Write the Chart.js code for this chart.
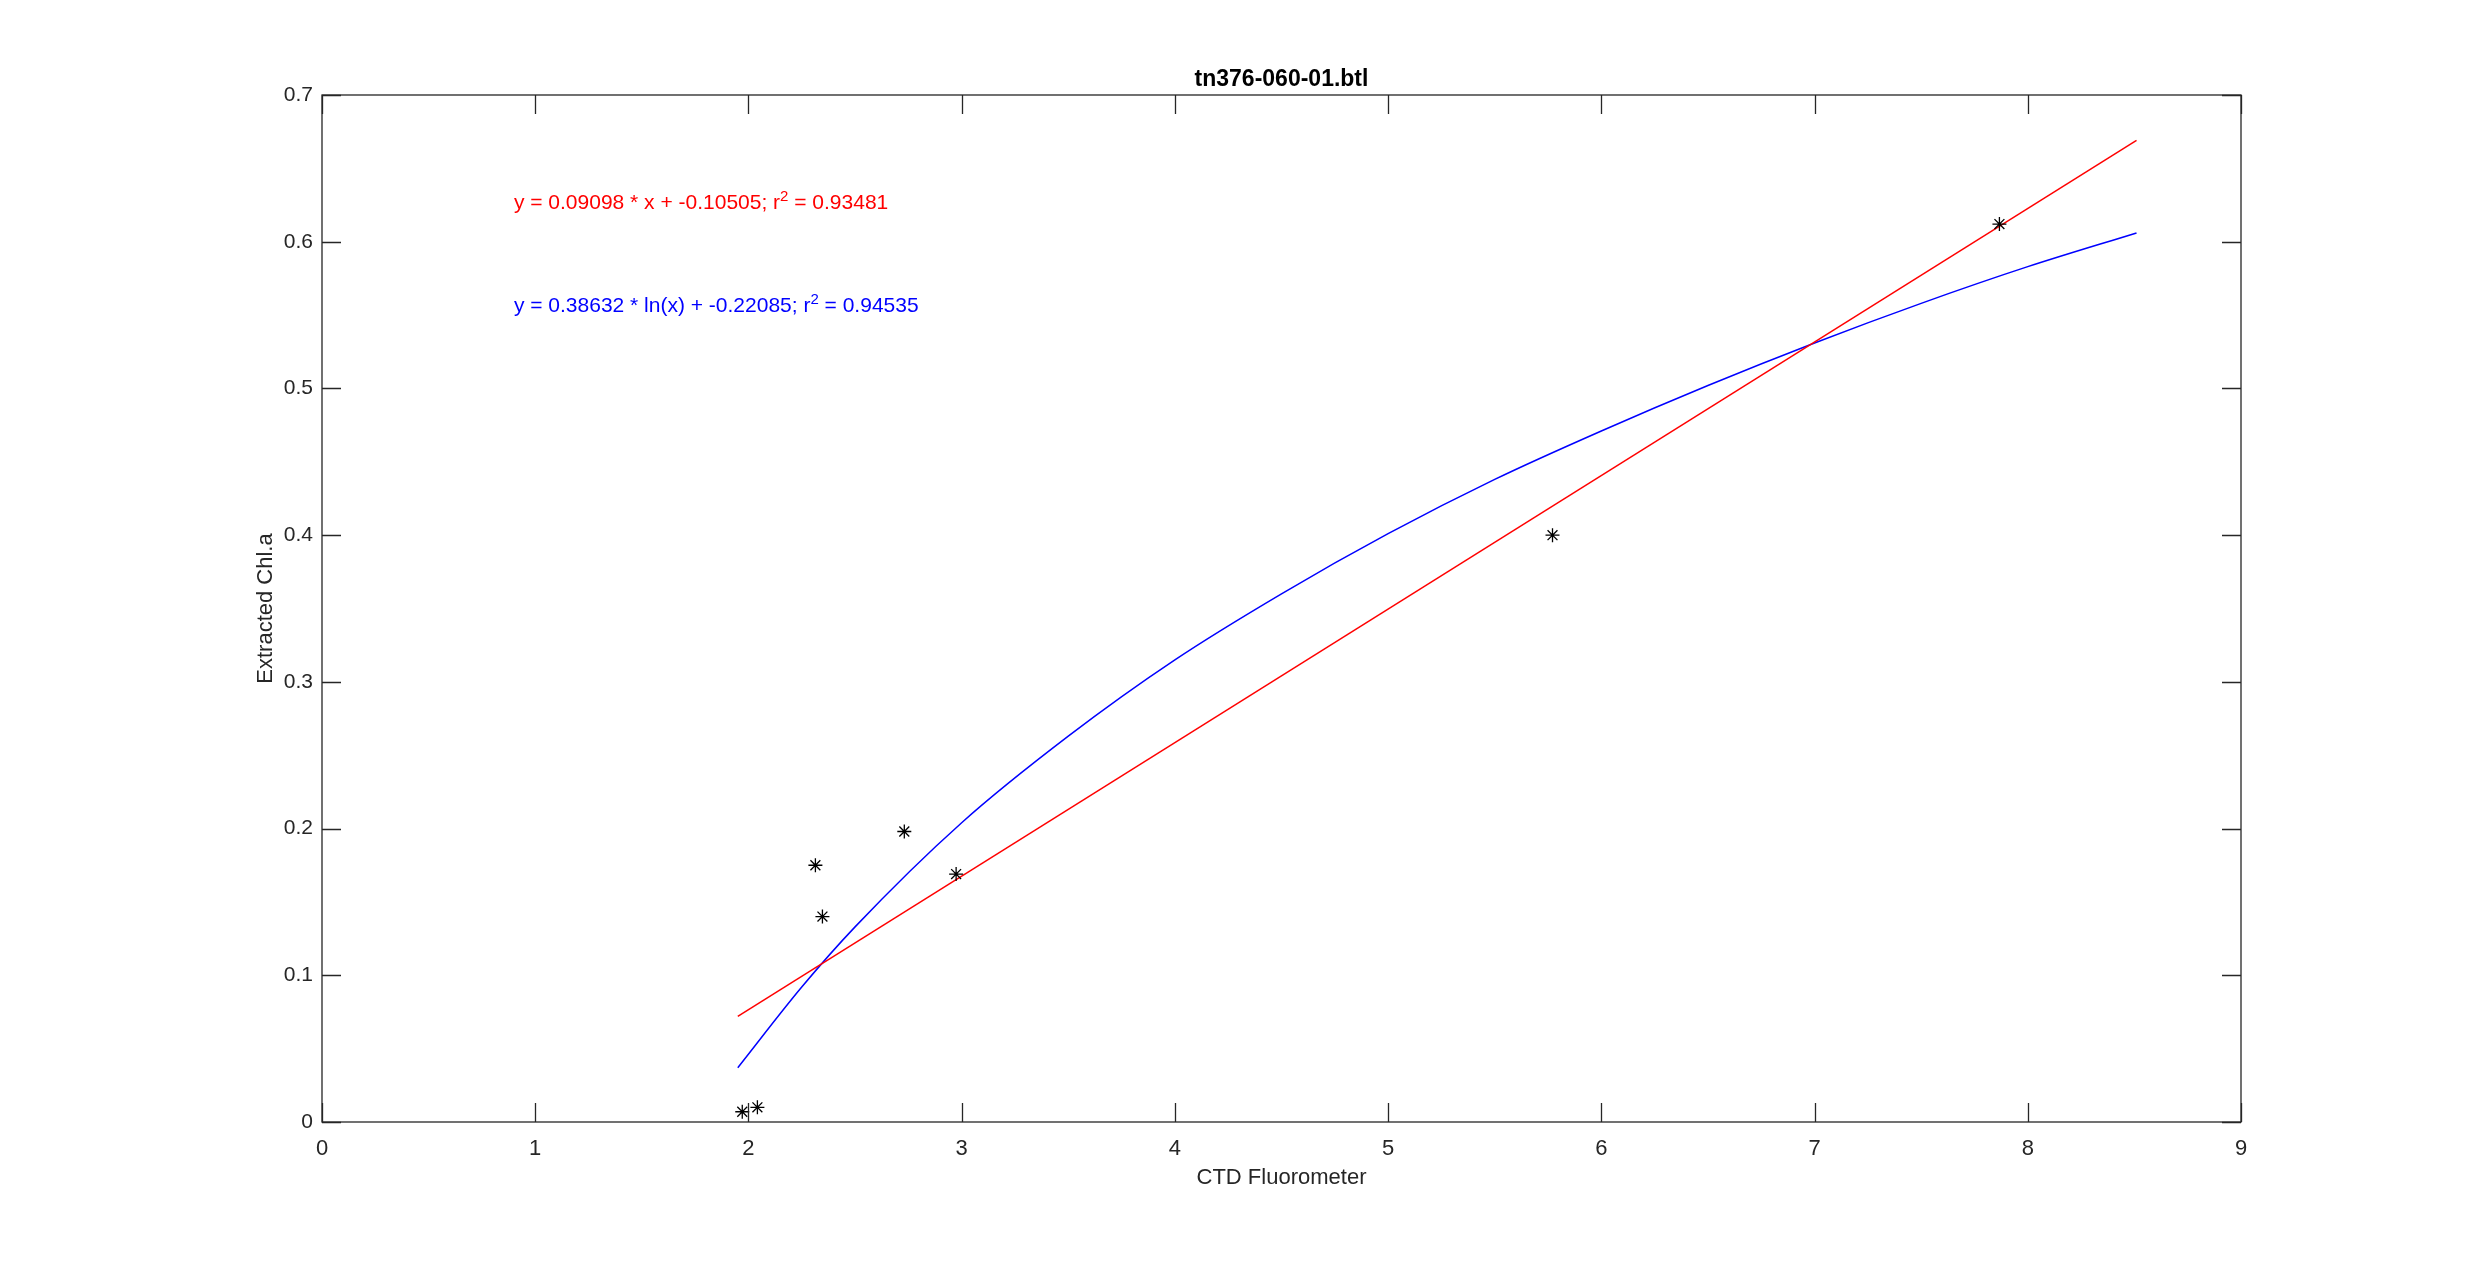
<!DOCTYPE html>
<html>
<head>
<meta charset="utf-8">
<title>tn376-060-01.btl</title>
<script src="https://cdn.jsdelivr.net/npm/chart.js@4.4.0/dist/chart.umd.min.js"></script>
<style>
  html, body { margin: 0; padding: 0; background: #fff; }
  canvas { display: block; }
</style>
</head>
<body>
<canvas id="fit-chart" width="2475" height="1261"></canvas>
<script>
// bottle samples (CTD fluorometer vs extracted chl a)
const sampleX = [1.971, 2.042, 2.314, 2.347, 2.731, 2.974, 5.771, 7.867];
const sampleY = [0.007, 0.010, 0.175, 0.140, 0.198, 0.169, 0.400, 0.612];

// linear fit line at its two ends
const linearX = [1.95, 8.51];
const linearY = [0.072, 0.669];

// log fit curve
const logX = [1.95, 2.25, 2.5, 3, 3.5, 4, 4.5, 5, 5.5, 6, 6.5, 7, 7.5, 8, 8.51];
const logY = [0.037, 0.092, 0.133, 0.204, 0.263, 0.315, 0.360, 0.401, 0.438, 0.471, 0.502, 0.531, 0.558, 0.583, 0.606];

const xTicks = [0, 1, 2, 3, 4, 5, 6, 7, 8, 9];
const yTicks = [0, 0.1, 0.2, 0.3, 0.4, 0.5, 0.6, 0.7];
const yTickLabels = ["0", "0.1", "0.2", "0.3", "0.4", "0.5", "0.6", "0.7"];

const chartTitle = "tn376-060-01.btl";
const xTitle = "CTD Fluorometer";
const yTitle = "Extracted Chl.a";

// equation labels: [before superscript, superscript, after]
const linearLabel = ["y = 0.09098 * x + -0.10505; r", "2", " = 0.93481"];
const logLabel = ["y = 0.38632 * ln(x) + -0.22085; r", "2", " = 0.94535"];

const axisColor = "#262626";
const fontFamily = "'Liberation Sans', Arial, Helvetica, sans-serif";

const toPoints = (xs, ys) => xs.map((x, i) => ({ x: x, y: ys[i] }));

// MATLAB style box, inward ticks, title and equation text
const matlabAxes = {
	id: "matlabAxes",
	afterDraw(chart) {
		const { ctx, chartArea: a, scales } = chart;
		const xs = scales.x;
		const ys = scales.y;
		const len = 19;
		ctx.save();
		ctx.strokeStyle = axisColor;
		ctx.lineWidth = 1.3;
		ctx.strokeRect(a.left, a.top, a.right - a.left, a.bottom - a.top);
		ctx.beginPath();
		xTicks.forEach((v) => {
			const px = Math.round(xs.getPixelForValue(v)) + 0.5;
			ctx.moveTo(px, a.bottom);
			ctx.lineTo(px, a.bottom - len);
			ctx.moveTo(px, a.top);
			ctx.lineTo(px, a.top + len);
		});
		yTicks.forEach((v) => {
			const py = Math.round(ys.getPixelForValue(v)) + 0.5;
			ctx.moveTo(a.left, py);
			ctx.lineTo(a.left + len, py);
			ctx.moveTo(a.right, py);
			ctx.lineTo(a.right - len, py);
		});
		ctx.stroke();

		ctx.fillStyle = "#000";
		ctx.font = "bold 23px " + fontFamily;
		ctx.textAlign = "center";
		ctx.textBaseline = "alphabetic";
		ctx.fillText(chartTitle, (a.left + a.right) / 2, a.top - 9);

		const drawEq = (parts, x, y, color) => {
			let px = xs.getPixelForValue(x);
			const py = ys.getPixelForValue(y);
			ctx.fillStyle = color;
			ctx.textAlign = "left";
			ctx.textBaseline = "alphabetic";
			ctx.font = "21px " + fontFamily;
			ctx.fillText(parts[0], px, py);
			px += ctx.measureText(parts[0]).width;
			ctx.font = "15px " + fontFamily;
			ctx.fillText(parts[1], px, py - 8);
			px += ctx.measureText(parts[1]).width;
			ctx.font = "21px " + fontFamily;
			ctx.fillText(parts[2], px, py);
		};
		drawEq(linearLabel, 0.9, 0.622, "#ff0000");
		drawEq(logLabel, 0.9, 0.552, "#0000ff");
		ctx.restore();
	},
};

new Chart(document.getElementById("fit-chart"), {
	type: "scatter",
	data: {
		datasets: [
			{
				label: "samples",
				data: toPoints(sampleX, sampleY),
				pointStyle: "star",
				pointRadius: 7,
				borderColor: "#000",
				backgroundColor: "#000",
				borderWidth: 1.3,
				showLine: false,
			},
			{
				label: "linear fit",
				data: toPoints(linearX, linearY),
				showLine: true,
				pointRadius: 0,
				borderColor: "#ff0000",
				borderWidth: 1.5,
			},
			{
				label: "log fit",
				data: toPoints(logX, logY),
				showLine: true,
				pointRadius: 0,
				borderColor: "#0000ff",
				borderWidth: 1.5,
				cubicInterpolationMode: "monotone",
			},
		],
	},
	options: {
		responsive: false,
		animation: false,
		devicePixelRatio: 1,
		layout: { padding: { top: 95, right: 234, bottom: 0, left: 0 } },
		plugins: {
			legend: { display: false },
			tooltip: { enabled: false },
		},
		scales: {
			x: {
				type: "linear",
				min: 0,
				max: 9,
				afterBuildTicks: (scale) => {
					scale.ticks = xTicks.map((v) => ({ value: v }));
				},
				afterFit: (scale) => {
					scale.height = 139;
				},
				grid: { display: false, drawTicks: false },
				border: { display: false },
				ticks: {
					color: axisColor,
					font: { family: fontFamily, size: 22 },
					padding: 14,
					maxRotation: 0,
					callback: (v) => String(v),
				},
				title: {
					display: true,
					text: xTitle,
					color: axisColor,
					font: { family: fontFamily, size: 22 },
					padding: { top: 0, bottom: 70 },
				},
			},
			y: {
				type: "linear",
				min: 0,
				max: 0.7,
				afterBuildTicks: (scale) => {
					scale.ticks = yTicks.map((v) => ({ value: v }));
				},
				afterFit: (scale) => {
					scale.width = 322;
				},
				grid: { display: false, drawTicks: false },
				border: { display: false },
				ticks: {
					color: axisColor,
					font: { family: fontFamily, size: 21 },
					padding: 9,
					callback: (v, i) => yTickLabels[i],
				},
				title: {
					display: true,
					text: yTitle,
					color: axisColor,
					font: { family: fontFamily, size: 22 },
					padding: { top: 253, bottom: 0 },
				},
			},
		},
	},
	plugins: [matlabAxes],
});
</script>
</body>
</html>
